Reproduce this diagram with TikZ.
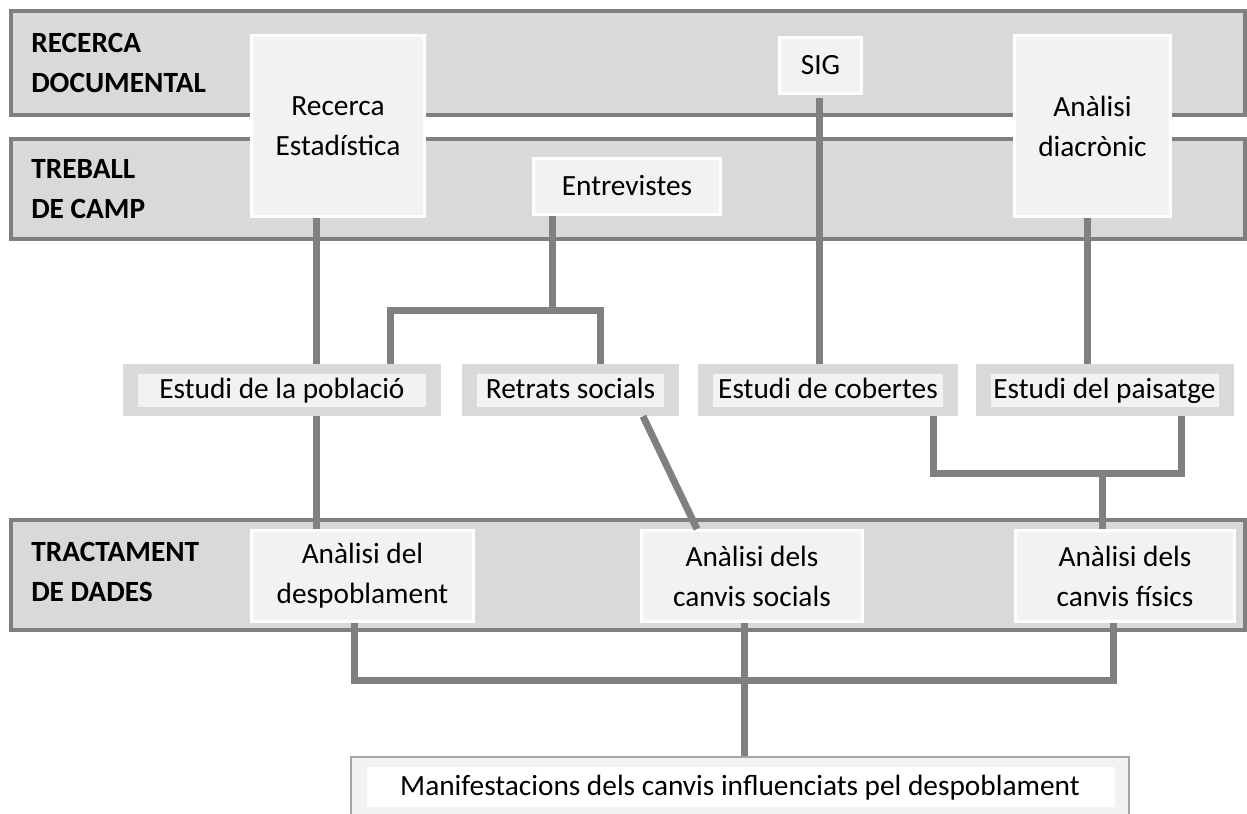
\documentclass[tikz,border=0pt]{standalone}
\usepackage{fontspec}
\setmainfont{Carlito}
\usepackage{tikz}
\definecolor{bandfill}{HTML}{D9D9D9}
\definecolor{bandline}{HTML}{7F7F7F}
\definecolor{boxfill}{HTML}{F2F2F2}
\definecolor{linegray}{HTML}{808080}
\definecolor{manifline}{HTML}{A6A6A6}
\tikzset{
    x=0.75pt, y=-0.75pt, % one unit is one pixel of the sketch, y runs down
    every node/.style={font=\fontsize{22}{30}\selectfont}, % same text size everywhere
    oneline/.style={text height=17.6pt, text depth=4.4pt}, % common baseline for one line texts
    band/.style={draw=bandline, fill=bandfill, line width=3pt}, % the grey rows
    bandlabel/.style={anchor=west, align=left, inner sep=0pt, font=\fontsize{22}{30}\selectfont\bfseries}, % row titles
    source/.style={draw=white, fill=boxfill, line width=2.25pt, align=center, inner sep=0pt}, % light boxes
    study/.style={fill=bandfill, minimum height=39pt, inner sep=0pt, oneline,
        path picture={\fill[boxfill] ([shift={(15,10)}]path picture bounding box.north west)
            rectangle ([shift={(-15,-9)}]path picture bounding box.south east);}}, % framed boxes of the middle row
    result/.style={draw=manifline, fill=boxfill, line width=1.5pt, inner sep=0pt, oneline,
        path picture={\fill[white] ([shift={(16,10)}]path picture bounding box.north west)
            rectangle ([shift={(-14,-10)}]path picture bounding box.south east);}}, % last box
    conn/.style={draw=linegray, line width=5.25pt}, % thick grey links
}

\begin{document}
\begin{tikzpicture}
    \useasboundingbox (0,0) rectangle (1247,814);
    \clip (0,0) rectangle (1247,814);
    % rows
    \draw[band] (11,11) rectangle (1245,115);
    \draw[band] (11,139) rectangle (1245,239);
    \draw[band] (11,520) rectangle (1245,630);
    \node[bandlabel] (doc) at (31,63) {RECERCA\\DOCUMENTAL};
    \node[bandlabel] (camp) at (31,189) {TREBALL\\DE CAMP};
    \node[bandlabel] (dades) at (31,572) {TRACTAMENT\\DE DADES};
    % sources
    \node[source, minimum width=129.75pt, minimum height=135.75pt] (estad) at (338,126) {Recerca\\Estadística};
    \node[source, oneline, minimum width=61.5pt, minimum height=42pt] (sig) at (820.5,65.5) {SIG};
    \node[source, minimum width=117pt, minimum height=135.75pt] (diacr) at (1092.5,126) {Anàlisi\\diacrònic};
    \node[source, oneline, minimum width=140.25pt, minimum height=42pt] (entrev) at (627,186.5) {Entrevistes};
    % studies
    \node[study, minimum width=238.5pt] (pobl) at (282,390) {Estudi de la població};
    \node[study, minimum width=162.75pt] (retr) at (570.5,390) {Retrats socials};
    \node[study, minimum width=195pt] (cob) at (828,390) {Estudi de cobertes};
    \node[study, minimum width=193.5pt] (pais) at (1104.5,390) {Estudi del paisatge};
    % analysis
    \node[source, minimum width=166.5pt, minimum height=68.25pt] (desp) at (362.5,576) {Anàlisi del\\despoblament};
    \node[source, minimum width=165.75pt, minimum height=68.25pt] (soc) at (752,576) {Anàlisi dels\\canvis socials};
    \node[source, minimum width=164.25pt, minimum height=68.25pt] (fis) at (1125,576) {Anàlisi dels\\canvis físics};
    \node[result, minimum width=583.5pt, minimum height=45pt] (manif) at (740,787) {Manifestacions dels canvis influenciats pel despoblament};
    % links
    \draw[conn] ([shift={(-22,0)}]estad.south) -- ([shift={(34,0)}]pobl.north);
    \draw[conn] ([shift={(34,0)}]pobl.south) -- ([shift={(-46.5,0)}]desp.north);
    \draw[conn] ([shift={(-75,0)}]entrev.south) -- ++(0,94) coordinate (ej);
    \draw[conn] ([shift={(108,0)}]pobl.north) |- (ej) -| ([shift={(29.5,0)}]retr.north);
    \draw[conn] ([shift={(-1.5,3)}]sig.south) -- ([shift={(-9,0)}]cob.north);
    \draw[conn] ([shift={(-5.5,0)}]diacr.south) -- ([shift={(-17.5,0)}]pais.north);
    \draw[conn] ([shift={(105,0)}]cob.south) -- ++(0,57) -| ([shift={(76.5,0)}]pais.south);
    \draw[conn] ([shift={(-23,0)}]fis.north) -- ++(0,-57);
    \draw[conn] ([shift={(72.5,0)}]retr.south) -- ([shift={(-55,0)}]soc.north);
    \draw[conn] ([shift={(-8.5,0)}]desp.south) |- ([shift={(-12,57)}]fis.south) -- ([shift={(-12,0)}]fis.south);
    \draw[conn] ([shift={(-8,0)}]soc.south) -- ([shift={(4,0)}]manif.north);
\end{tikzpicture}
\end{document}
